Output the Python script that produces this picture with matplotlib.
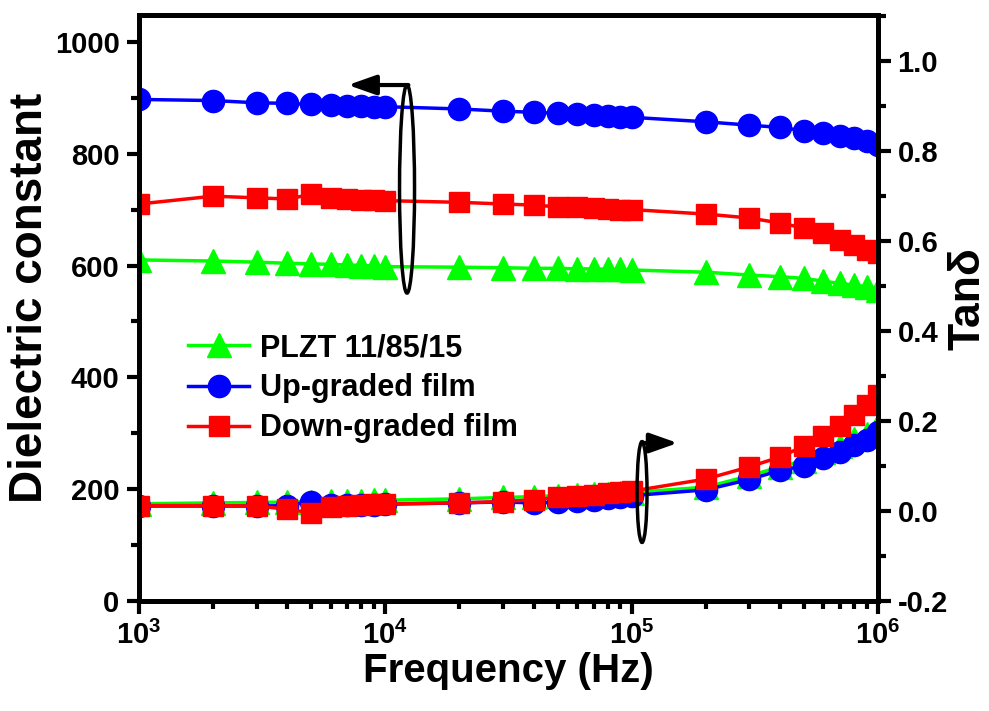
import matplotlib
matplotlib.use("Agg")
import matplotlib.pyplot as plt
from matplotlib.patches import Ellipse
from matplotlib.ticker import MultipleLocator, LogLocator, NullFormatter

plt.rcParams['font.family'] = ['Liberation Sans', 'DejaVu Sans']
plt.rcParams['font.weight'] = 'bold'
plt.rcParams['mathtext.fontset'] = 'custom'
plt.rcParams['mathtext.rm'] = 'Liberation Sans:bold'
plt.rcParams['mathtext.bf'] = 'Liberation Sans:bold'

# frequency points (Hz)
freq = [1e3, 2e3, 3e3, 4e3, 5e3, 6e3, 7e3, 8e3, 9e3, 1e4,
        2e4, 3e4, 4e4, 5e4, 6e4, 7e4, 8e4, 9e4, 1e5,
        2e5, 3e5, 4e5, 5e5, 6e5, 7e5, 8e5, 9e5, 1e6]

# dielectric constant
eps_plzt = [610, 608, 606, 604, 603, 602, 601, 600, 599, 598,
            597, 596, 595, 595, 594, 594, 593, 593, 592,
            588, 583, 580, 577, 572, 568, 565, 562, 557]
eps_up = [897, 895, 891, 890, 888, 887, 886, 885, 884, 884,
          880, 876, 874, 872, 871, 869, 868, 866, 865,
          857, 851, 847, 841, 837, 832, 828, 823, 816]
eps_down = [710, 724, 721, 719, 727, 720, 719, 717, 717, 716,
            713, 710, 708, 705, 704, 702, 701, 699, 700,
            692, 685, 676, 667, 658, 646, 637, 628, 622]

# tan delta
tan_plzt = [0.016, 0.018, 0.019, 0.020, 0.021, 0.022, 0.023, 0.023, 0.024, 0.024,
            0.027, 0.030, 0.032, 0.034, 0.035, 0.037, 0.038, 0.040, 0.041,
            0.053, 0.078, 0.098, 0.112, 0.130, 0.144, 0.160, 0.172, 0.190]
tan_up = [0.011, 0.011, 0.011, 0.012, 0.021, 0.013, 0.013, 0.014, 0.014, 0.015,
          0.018, 0.020, 0.018, 0.020, 0.022, 0.025, 0.028, 0.031, 0.034,
          0.047, 0.070, 0.090, 0.100, 0.118, 0.132, 0.147, 0.158, 0.175]
tan_down = [0.012, 0.012, 0.011, 0.004, -0.004, 0.009, 0.011, 0.013, 0.015, 0.016,
            0.018, 0.021, 0.025, 0.030, 0.033, 0.036, 0.039, 0.042, 0.044,
            0.071, 0.098, 0.120, 0.144, 0.167, 0.188, 0.214, 0.236, 0.258]

labels = ['PLZT 11/85/15', 'Up-graded film', 'Down-graded film']

fig = plt.figure(figsize=(9.89, 7.11), dpi=100)
ax = fig.add_axes([139/989, 1 - 601/711, (878 - 139)/989, (601 - 15)/711])
ax2 = ax.twinx()

lw = 2.5
ax.plot(freq, eps_plzt, '-^', color='#00ff00', lw=lw, ms=17, mec='#00ff00')
ax.plot(freq, eps_up, '-o', color='#0000ff', lw=lw, ms=16, mec='#0000ff')
ax.plot(freq, eps_down, '-s', color='#ff0000', lw=lw, ms=15, mec='#ff0000')

l1, = ax2.plot(freq, tan_plzt, '-^', color='#00ff00', lw=lw, ms=17, mec='#00ff00')
l2, = ax2.plot(freq, tan_up, '-o', color='#0000ff', lw=lw, ms=16, mec='#0000ff')
l3, = ax2.plot(freq, tan_down, '-s', color='#ff0000', lw=lw, ms=15, mec='#ff0000')

ax.set_xscale('log')
ax.set_xlim(1e3, 1e6)
ax.set_ylim(0, 1048)
ax2.set_ylim(-0.2, 1.102)

ax.set_xticks([1e3, 1e4, 1e5, 1e6])
ax.set_xticklabels([r'$\mathbf{10^{3}}$', r'$\mathbf{10^{4}}$', r'$\mathbf{10^{5}}$', r'$\mathbf{10^{6}}$'])
ax.xaxis.set_minor_locator(LogLocator(base=10, subs=range(2, 10)))
ax.xaxis.set_minor_formatter(NullFormatter())

ax.yaxis.set_major_locator(MultipleLocator(200))
ax.yaxis.set_minor_locator(MultipleLocator(100))
ax2.yaxis.set_minor_locator(MultipleLocator(0.1))
ax2.set_yticks([-0.2, 0.0, 0.2, 0.4, 0.6, 0.8, 1.0])
ax2.set_yticklabels(['-0.2', '0.0', '0.2', '0.4', '0.6', '0.8', '1.0'])

for a in (ax, ax2):
    for s in a.spines.values():
        s.set_linewidth(3.5)
    a.tick_params(which='major', length=9, width=3, labelsize=21, pad=5)
    a.tick_params(which='minor', length=5.5, width=3)
ax.tick_params(axis='both', which='both', direction='out', top=False, right=False)
ax2.tick_params(axis='y', which='both', direction='out')

ax.set_xlabel('Frequency (Hz)', fontsize=29, fontweight='bold', labelpad=2)
# y labels placed by hand (pixel positions of the reference)
fig.text(30/989, 1 - 298/711, 'Dielectric constant', rotation=90, fontsize=33,
         fontweight='bold', ha='center', va='center')
fig.text(968/989, 1 - 299/711, 'Tanδ', rotation=90, fontsize=32,
         fontweight='bold', ha='center', va='center')

# ellipses and arrows marking which axis each group belongs to
arrow_style = '-|>,head_length=0.85,head_width=0.3'
ax2.add_patch(Ellipse((0.3627, 0.703), 0.0203, 0.355, transform=ax2.transAxes,
                      fill=False, lw=2.5, ec='black', zorder=5))
ax2.annotate('', xy=(0.2828, 0.8805), xytext=(0.3645, 0.8805),
             xycoords='axes fraction', textcoords='axes fraction',
             arrowprops=dict(arrowstyle=arrow_style, lw=3, color='black',
                             mutation_scale=20, shrinkA=0, shrinkB=0))
ax2.add_patch(Ellipse((0.6807, 0.186), 0.0135, 0.172, transform=ax2.transAxes,
                      fill=False, lw=2.5, ec='black', zorder=5))
ax2.annotate('', xy=(0.729, 0.2696), xytext=(0.6807, 0.2696),
             xycoords='axes fraction', textcoords='axes fraction',
             arrowprops=dict(arrowstyle=arrow_style, lw=3, color='black',
                             mutation_scale=20, shrinkA=0, shrinkB=0))

ax2.legend([l1, l2, l3], labels, loc='upper left', bbox_to_anchor=(0.05, 0.478),
           frameon=False, fontsize=22, handlelength=2.0, handletextpad=0.35,
           labelspacing=0.33, borderaxespad=0)

fig.savefig('out.png', dpi=100)
